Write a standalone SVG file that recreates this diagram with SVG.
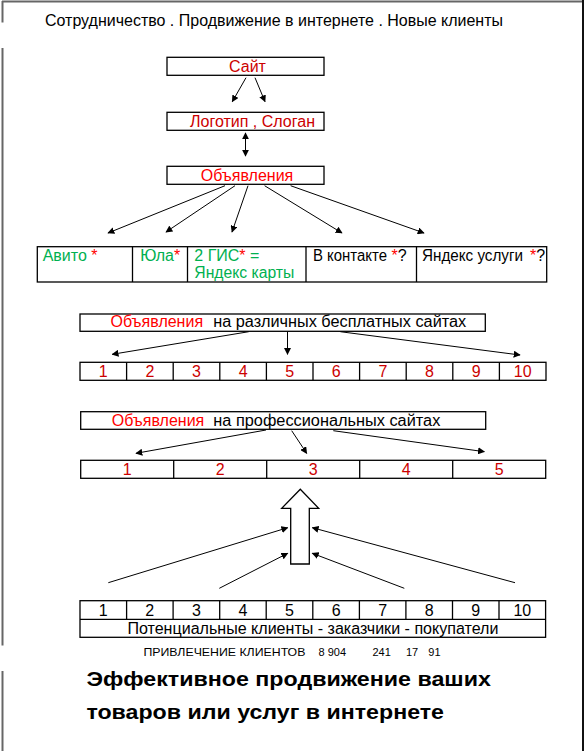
<svg xmlns="http://www.w3.org/2000/svg" width="584" height="751" viewBox="0 0 584 751">
<defs>
<marker id="ah" viewBox="0 0 10 10" refX="9" refY="5" markerWidth="7" markerHeight="7" markerUnits="userSpaceOnUse" orient="auto-start-reverse">
<path d="M0,0 L10,5 L0,10 z" fill="#000"/>
</marker>
<style>
text{font-family:"Liberation Sans",Arial,sans-serif;}
.box{fill:#fff;stroke:#000;stroke-width:1.3;}
.t16{font-size:16px;}
.dred{fill:#cc0000;}
.red{fill:#ff0000;}
.grn{fill:#00b050;}
.blk{fill:#000;}
.con line{stroke:#000;stroke-width:1;marker-end:url(#ah);}
.frameg{stroke:#666;stroke-width:2;}
</style>
</defs>
<rect x="0" y="0" width="584" height="751" fill="#fff"/>
<g id="frame">
<line class="frameg" x1="2" y1="1.5" x2="583" y2="1.5"/>
<line class="frameg" x1="2.5" y1="1" x2="2.5" y2="22.5"/>
<line class="frameg" x1="2.5" y1="48" x2="2.5" y2="645.5"/>
<line class="frameg" x1="2.5" y1="671" x2="2.5" y2="751"/>
<line x1="583" y1="0" x2="583" y2="751" stroke="#111" stroke-width="2"/>
</g>
<g id="title">
<text x="45" y="26" class="t16 blk" textLength="458" lengthAdjust="spacingAndGlyphs">Сотрудничество . Продвижение в интернете . Новые клиенты</text>
</g>
<g id="site">
<rect class="box" x="167" y="57.3" width="157" height="18"/>
<text x="247.5" y="71.7" class="t16 dred" text-anchor="middle">Сайт</text>
</g>
<g id="logo">
<rect class="box" x="167" y="112.3" width="157" height="18"/>
<text x="190" y="126.8" class="t16 dred" textLength="125" lengthAdjust="spacingAndGlyphs">Логотип , Слоган</text>
</g>
<g id="ads">
<rect class="box" x="167" y="166.3" width="157" height="18"/>
<text x="247" y="180.8" class="t16 red" text-anchor="middle">Объявления</text>
</g>
<g id="platforms">
<rect class="box" x="37.3" y="246.7" width="509.4" height="35.3"/>
<line x1="132.5" y1="246.7" x2="132.5" y2="282" stroke="#000" stroke-width="1.3"/>
<line x1="187.5" y1="246.7" x2="187.5" y2="282" stroke="#000" stroke-width="1.3"/>
<line x1="306" y1="246.7" x2="306" y2="282" stroke="#000" stroke-width="1.3"/>
<line x1="416.5" y1="246.7" x2="416.5" y2="282" stroke="#000" stroke-width="1.3"/>
<text x="42.7" y="260.7" class="t16"><tspan class="grn">Авито </tspan><tspan class="red">*</tspan></text>
<text x="140.3" y="260.7" class="t16"><tspan class="grn">Юла</tspan><tspan class="red">*</tspan></text>
<text x="194.3" y="260.7" class="t16"><tspan class="grn">2 ГИС</tspan><tspan class="red">*</tspan><tspan class="grn"> =</tspan></text>
<text x="194.3" y="277.7" class="t16 grn" textLength="100" lengthAdjust="spacingAndGlyphs">Яндекс карты</text>
<text x="313" y="260.7" class="t16 blk" textLength="74" lengthAdjust="spacingAndGlyphs">В контакте</text>
<text x="391.5" y="260.7" class="t16 red">*</text>
<text x="397.8" y="260.7" class="t16 blk">?</text>
<text x="422" y="260.7" class="t16 blk" textLength="101" lengthAdjust="spacingAndGlyphs">Яндекс услуги</text>
<text x="530" y="260.7" class="t16 red">*</text>
<text x="536.3" y="260.7" class="t16 blk">?</text>
</g>
<g id="free-sites">
<rect class="box" x="80" y="314" width="405.3" height="17.3"/>
<text x="110.5" y="327" class="t16 red">Объявления</text>
<text x="213.2" y="327" class="t16 blk" textLength="253" lengthAdjust="spacingAndGlyphs">на различных  бесплатных  сайтах</text>
</g>
<g id="free-list">
<rect class="box" x="80" y="362.3" width="466" height="18"/>
<g stroke="#000" stroke-width="1.3">
<line x1="126.6" y1="362.3" x2="126.6" y2="380.3"/>
<line x1="173.2" y1="362.3" x2="173.2" y2="380.3"/>
<line x1="219.8" y1="362.3" x2="219.8" y2="380.3"/>
<line x1="266.4" y1="362.3" x2="266.4" y2="380.3"/>
<line x1="313" y1="362.3" x2="313" y2="380.3"/>
<line x1="359.6" y1="362.3" x2="359.6" y2="380.3"/>
<line x1="406.2" y1="362.3" x2="406.2" y2="380.3"/>
<line x1="452.8" y1="362.3" x2="452.8" y2="380.3"/>
<line x1="499.4" y1="362.3" x2="499.4" y2="380.3"/>
</g>
<g class="t16 dred" text-anchor="middle">
<text x="103.3" y="376.7">1</text>
<text x="149.9" y="376.7">2</text>
<text x="196.5" y="376.7">3</text>
<text x="243.1" y="376.7">4</text>
<text x="289.7" y="376.7">5</text>
<text x="336.3" y="376.7">6</text>
<text x="382.9" y="376.7">7</text>
<text x="429.5" y="376.7">8</text>
<text x="476.1" y="376.7">9</text>
<text x="522.7" y="376.7">10</text>
</g>
</g>
<g id="pro-sites">
<rect class="box" x="80.7" y="411.7" width="405" height="17.6"/>
<text x="111.7" y="425.7" class="t16 red">Объявления</text>
<text x="213.3" y="425.7" class="t16 blk" textLength="227" lengthAdjust="spacingAndGlyphs">на  профессиональных сайтах</text>
</g>
<g id="pro-list">
<rect class="box" x="80.7" y="460.3" width="465" height="18"/>
<g stroke="#000" stroke-width="1.3">
<line x1="173.7" y1="460.3" x2="173.7" y2="478.3"/>
<line x1="266.7" y1="460.3" x2="266.7" y2="478.3"/>
<line x1="359.7" y1="460.3" x2="359.7" y2="478.3"/>
<line x1="452.7" y1="460.3" x2="452.7" y2="478.3"/>
</g>
<g class="t16 dred" text-anchor="middle">
<text x="127.2" y="474.7">1</text>
<text x="220.2" y="474.7">2</text>
<text x="313.2" y="474.7">3</text>
<text x="406.2" y="474.7">4</text>
<text x="499.2" y="474.7">5</text>
</g>
</g>
<g id="block-arrow">
<polygon points="300.3,489.3 318.7,508.3 309.3,508.3 309.3,564 290.7,564 290.7,508.3 281.7,508.3" fill="#fff" stroke="#000" stroke-width="1.3"/>
</g>
<g id="clients">
<rect class="box" x="80" y="600.7" width="465.6" height="36.6"/>
<line x1="80" y1="619.3" x2="545.6" y2="619.3" stroke="#000" stroke-width="1.3"/>
<g stroke="#000" stroke-width="1.3">
<line x1="126.6" y1="600.7" x2="126.6" y2="619.3"/>
<line x1="173.1" y1="600.7" x2="173.1" y2="619.3"/>
<line x1="219.7" y1="600.7" x2="219.7" y2="619.3"/>
<line x1="266.2" y1="600.7" x2="266.2" y2="619.3"/>
<line x1="312.8" y1="600.7" x2="312.8" y2="619.3"/>
<line x1="359.4" y1="600.7" x2="359.4" y2="619.3"/>
<line x1="405.9" y1="600.7" x2="405.9" y2="619.3"/>
<line x1="452.5" y1="600.7" x2="452.5" y2="619.3"/>
<line x1="499" y1="600.7" x2="499" y2="619.3"/>
</g>
<g class="t16 blk" text-anchor="middle">
<text x="103.3" y="615.5">1</text>
<text x="149.8" y="615.5">2</text>
<text x="196.4" y="615.5">3</text>
<text x="242.9" y="615.5">4</text>
<text x="289.5" y="615.5">5</text>
<text x="336.1" y="615.5">6</text>
<text x="382.6" y="615.5">7</text>
<text x="429.2" y="615.5">8</text>
<text x="475.8" y="615.5">9</text>
<text x="522.3" y="615.5">10</text>
</g>
<text x="127.4" y="633.5" class="t16 blk" textLength="371" lengthAdjust="spacingAndGlyphs">Потенциальные клиенты - заказчики - покупатели</text>
</g>
<g id="attract">
<text x="143.4" y="656" font-size="11" class="blk" textLength="162" lengthAdjust="spacingAndGlyphs">ПРИВЛЕЧЕНИЕ КЛИЕНТОВ</text>
<text x="318.4" y="656" font-size="11" class="blk">8</text>
<text x="327.7" y="656" font-size="11" class="blk">904</text>
<text x="372.4" y="656" font-size="11" class="blk">241</text>
<text x="406" y="656" font-size="11" class="blk">17</text>
<text x="428.3" y="656" font-size="11" class="blk">91</text>
</g>
<g id="slogan">
<text x="86.4" y="685.7" font-size="20" font-weight="bold" class="blk" textLength="404.5" lengthAdjust="spacingAndGlyphs">Эффективное продвижение ваших</text>
<text x="86.4" y="719.3" font-size="20" font-weight="bold" class="blk" textLength="357.6" lengthAdjust="spacingAndGlyphs">товаров или услуг  в интернете</text>
</g>
<g id="connectors" class="con">
<line x1="246" y1="77.7" x2="232.3" y2="101.7"/>
<line x1="255" y1="77.7" x2="265" y2="101.7"/>
<line x1="245.5" y1="133" x2="245.5" y2="156" marker-start="url(#ah)"/>
<line x1="225" y1="185.7" x2="108" y2="233"/>
<line x1="235" y1="185.7" x2="166" y2="232"/>
<line x1="248" y1="185.7" x2="232" y2="232"/>
<line x1="264.6" y1="185.7" x2="342" y2="233"/>
<line x1="290.6" y1="185.7" x2="424" y2="233"/>
<line x1="248.8" y1="331.7" x2="112.2" y2="354.3"/>
<line x1="287.5" y1="331.7" x2="287.5" y2="354.3"/>
<line x1="340.3" y1="331.7" x2="520" y2="355"/>
<line x1="266" y1="430" x2="136" y2="453.3"/>
<line x1="291.7" y1="430.7" x2="306.7" y2="453.3"/>
<line x1="333.3" y1="430.7" x2="484.3" y2="451.7"/>
<line x1="108.3" y1="582.7" x2="287.7" y2="527.7"/>
<line x1="219.3" y1="588.3" x2="287.7" y2="553.3"/>
<line x1="404.3" y1="588.3" x2="312.3" y2="553.3"/>
<line x1="515" y1="582.7" x2="312.3" y2="527.7"/>
</g>
</svg>
